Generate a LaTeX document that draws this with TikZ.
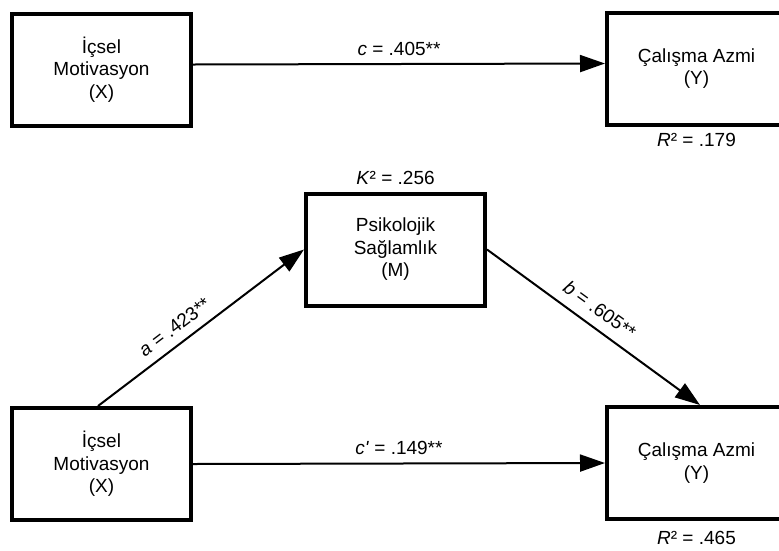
\documentclass[tikz,border=0pt]{standalone}
\usepackage{fontspec}
\setmainfont{Liberation Sans}
\usetikzlibrary{arrows.meta}

\tikzset{
  varbox/.style={draw, line width=4pt, rectangle, minimum width=179pt, minimum height=112pt,
                 align=center, inner sep=0pt},
  path/.style={line width=2pt, -{Triangle[length=25pt,width=17pt]}},
  coef/.style={inner sep=2pt},
  fit/.style={inner sep=0pt}
}

\begin{document}
\begin{tikzpicture}[x=1pt, y=-1pt, font=\fontsize{19}{22.5}\selectfont]
  \clip (0,0) rectangle (779,550);
  \fill[white] (0,0) rectangle (779,550);

  % total effect model
  \node[varbox] (x1) at (101.5,69.5) {İçsel\\Motivasyon\\(X)};
  \node[varbox] (y1) at (696.5,68.5) {Çalışma Azmi\\(Y)};
  \node[fit] (r1) at (696.5,140) {\textit{R}² = .179};
  \draw[path] ([yshift=5pt]x1.east) -- node[coef, above, yshift=5pt] {\textit{c} = .405**} ([yshift=5pt]y1.west);

  % mediation model
  \node[varbox] (m) at (395.5,249.5) {Psikolojik\\Sağlamlık\\(M)};
  \node[fit] (k) at (395.5,178) {\textit{K}² = .256};
  \node[varbox] (x2) at (101.5,464) {İçsel\\Motivasyon\\(X)};
  \node[varbox] (y2) at (696.5,463) {Çalışma Azmi\\(Y)};
  \node[fit] (r2) at (696.5,538) {\textit{R}² = .465};

  \draw[path] ([xshift=-3.5pt]x2.north) -- node[coef, pos=0.42, sloped, above, yshift=7pt] {\textit{a} = .423**} (m.west);
  \draw[path] (m.east) -- node[coef, pos=0.48, sloped, above, yshift=8pt] {\textit{b} = .605**} ([xshift=3.5pt]y2.north);
  \draw[path] (x2.east) -- node[coef, above, yshift=6pt] {\textit{c\textquotesingle} = .149**} (y2.west);
\end{tikzpicture}
\end{document}
